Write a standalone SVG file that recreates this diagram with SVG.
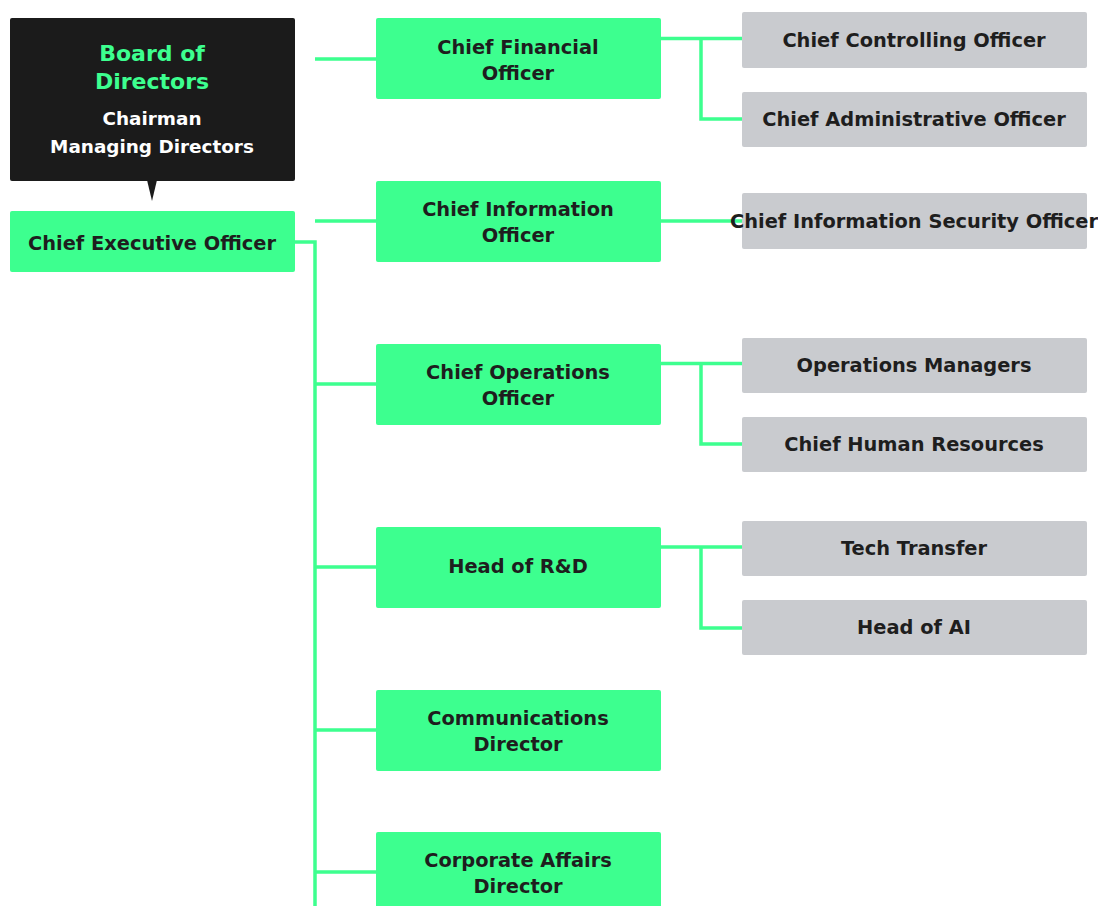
<svg xmlns="http://www.w3.org/2000/svg" width="1098" height="906" viewBox="0 0 1098 906">
<style>
.g{fill:#3dff8f}
.s{fill:#c9cbcf}
.t{font-family:"DejaVu Sans",sans-serif;font-weight:bold;font-size:19.4px;fill:#1e1e1e;text-anchor:middle}
.c{fill:none;stroke:#3dff8f;stroke-width:3.5}
</style>
<rect width="1098" height="906" fill="#fff"/>
<g id="connectors">
<path class="c" d="M295 242H315V906M315 384H376M315 567H376M315 730H376M315 872H376"/>
<path class="c" d="M315 59H376M315 221H376"/>
<path class="c" d="M660 38.5H742M701 38.5V119H742"/>
<path class="c" d="M660 221H742"/>
<path class="c" d="M660 363.5H742M701 363.5V444H742"/>
<path class="c" d="M660 547H742M701 547V628H742"/>
</g>
<g id="board">
<rect x="10" y="18" width="285" height="163" rx="2" fill="#1b1b1b"/>
<path d="M147 180L152 201L157 180Z" fill="#1b1b1b"/>
<text x="152" y="61" font-family="DejaVu Sans,sans-serif" font-weight="bold" font-size="22" fill="#3dff8f" text-anchor="middle">Board of</text>
<text x="152" y="89" font-family="DejaVu Sans,sans-serif" font-weight="bold" font-size="22" fill="#3dff8f" text-anchor="middle">Directors</text>
<text x="152" y="125" font-family="DejaVu Sans,sans-serif" font-weight="bold" font-size="18.4" fill="#fff" text-anchor="middle">Chairman</text>
<text x="152" y="153" font-family="DejaVu Sans,sans-serif" font-weight="bold" font-size="18.4" fill="#fff" text-anchor="middle">Managing Directors</text>
</g>
<g id="ceo"><rect class="g" x="10" y="211" width="285" height="61" rx="2"/><text class="t" x="152" y="250">Chief Executive Officer</text></g>
<g id="cfo"><rect class="g" x="376" y="18" width="285" height="81" rx="2"/><text class="t" x="518" y="54">Chief Financial</text><text class="t" x="518" y="80">Officer</text></g>
<g id="cio"><rect class="g" x="376" y="181" width="285" height="81" rx="2"/><text class="t" x="518" y="216">Chief Information</text><text class="t" x="518" y="242">Officer</text></g>
<g id="coo"><rect class="g" x="376" y="344" width="285" height="81" rx="2"/><text class="t" x="518" y="379">Chief Operations</text><text class="t" x="518" y="405">Officer</text></g>
<g id="rd"><rect class="g" x="376" y="527" width="285" height="81" rx="2"/><text class="t" x="518" y="573">Head of R&amp;D</text></g>
<g id="comms"><rect class="g" x="376" y="690" width="285" height="81" rx="2"/><text class="t" x="518" y="725">Communications</text><text class="t" x="518" y="751">Director</text></g>
<g id="corp"><rect class="g" x="376" y="832" width="285" height="81" rx="2"/><text class="t" x="518" y="867">Corporate Affairs</text><text class="t" x="518" y="893">Director</text></g>
<g id="cco"><rect class="s" x="742" y="12" width="345" height="56" rx="2"/><text class="t" x="914" y="47">Chief Controlling Officer</text></g>
<g id="cao"><rect class="s" x="742" y="92" width="345" height="55" rx="2"/><text class="t" x="914" y="126">Chief Administrative Officer</text></g>
<g id="ciso"><rect class="s" x="742" y="193" width="345" height="56" rx="2"/><text class="t" x="914" y="228">Chief Information Security Officer</text></g>
<g id="opsm"><rect class="s" x="742" y="338" width="345" height="55" rx="2"/><text class="t" x="914" y="372">Operations Managers</text></g>
<g id="chr"><rect class="s" x="742" y="417" width="345" height="55" rx="2"/><text class="t" x="914" y="451">Chief Human Resources</text></g>
<g id="tt"><rect class="s" x="742" y="521" width="345" height="55" rx="2"/><text class="t" x="914" y="555">Tech Transfer</text></g>
<g id="ai"><rect class="s" x="742" y="600" width="345" height="55" rx="2"/><text class="t" x="914" y="634">Head of AI</text></g>
</svg>
